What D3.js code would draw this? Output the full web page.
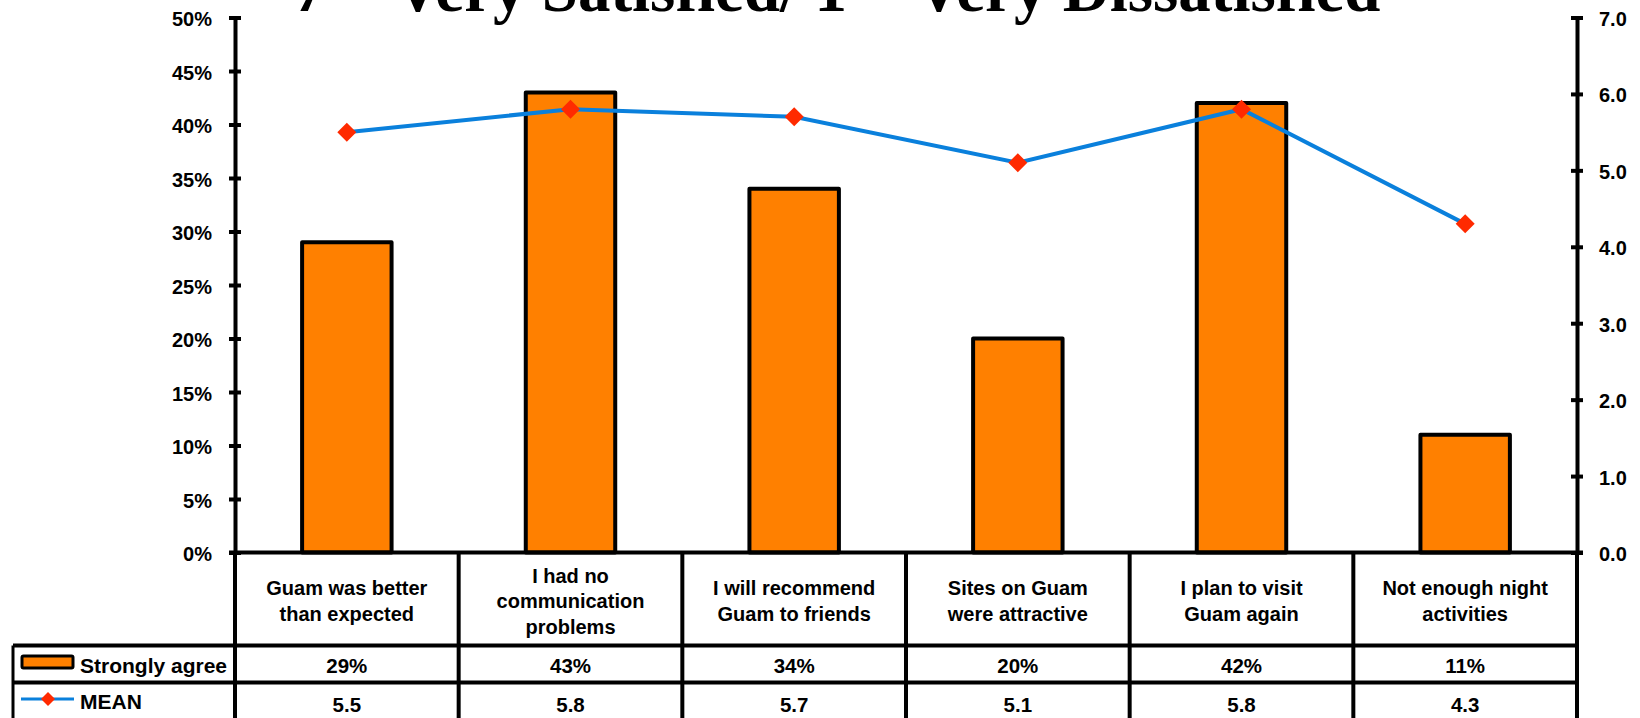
<!DOCTYPE html>
<html>
<head>
<meta charset="utf-8">
<script src="https://cdn.jsdelivr.net/npm/d3@7"></script>
<style>
  html, body { margin: 0; padding: 0; background: #fff; }
  svg { display: block; }
  text { font-family: "Liberation Sans", Arial, sans-serif; font-weight: bold; fill: #000; }
</style>
</head>
<body>
<svg id="chart" width="1640" height="718"></svg>
<script>
// Survey statements (table header lines are split with "|")
const categories = [
  "Guam was better|than expected",
  "I had no|communication|problems",
  "I will recommend|Guam to friends",
  "Sites on Guam|were attractive",
  "I plan to visit|Guam again",
  "Not enough night|activities"
];
// Share answering "Strongly agree"
const stronglyAgree = [0.29, 0.43, 0.34, 0.20, 0.42, 0.11];
// Mean score on the 1-7 scale
const meanScore = [5.5, 5.8, 5.7, 5.1, 5.8, 4.3];
// Axis ticks
const pctTicks = [0, 0.05, 0.10, 0.15, 0.20, 0.25, 0.30, 0.35, 0.40, 0.45, 0.50];
const meanTicks = [0, 1, 2, 3, 4, 5, 6, 7];
const seriesNames = ["Strongly agree", "MEAN"];
const titleText = "7 = Very Satisfied/ 1 = Very Dissatisfied";

const BAR = "#FF8000", LINE = "#0A80DC", MARK = "#FF2A00";

const svg = d3.select("#chart");

const plotLeft = 235, plotRight = 1577, plotTop = 17.5, plotBottom = 552.5;
const rowA = 645.5, rowB = 682.5, rowEnd = 718, legendLeft = 13;

const x = d3.scaleBand().domain(categories).range([plotLeft, plotRight]).padding(0);
const yL = d3.scaleLinear().domain([0, 0.5]).range([plotBottom, plotTop]);
const yR = d3.scaleLinear().domain([0, 7]).range([plotBottom, plotTop]);

// Title: only its lower edge falls inside the drawing
svg.append("text")
  .attr("x", 837).attr("y", 11)
  .attr("text-anchor", "middle")
  .style("font-family", "'Liberation Serif', 'Times New Roman', serif")
  .style("font-size", "65px")
  .text(titleText);

// Bars
svg.append("g").selectAll("rect")
  .data(categories)
  .join("rect")
  .attr("x", d => x(d) + x.bandwidth() * 0.3)
  .attr("width", x.bandwidth() * 0.4)
  .attr("y", (d, i) => yL(stronglyAgree[i]))
  .attr("height", (d, i) => plotBottom - yL(stronglyAgree[i]))
  .attr("fill", BAR)
  .attr("stroke", "#000")
  .attr("stroke-width", 4)
  .attr("stroke-linejoin", "round");

// Mean line with diamond markers
const cx = d => x(d) + x.bandwidth() / 2;
svg.append("path")
  .datum(categories)
  .attr("fill", "none")
  .attr("stroke", LINE)
  .attr("stroke-width", 4)
  .attr("d", d3.line().x(d => cx(d)).y((d, i) => yR(meanScore[i])));

const diamond = (s) => `M0,${-s}L${s},0L0,${s}L${-s},0Z`;
svg.append("g").selectAll("path")
  .data(categories)
  .join("path")
  .attr("transform", (d, i) => `translate(${cx(d)},${yR(meanScore[i])})`)
  .attr("d", diamond(9.5))
  .attr("fill", MARK);

// Left axis (percent)
const axL = svg.append("g")
  .attr("transform", `translate(${plotLeft},0)`)
  .call(d3.axisLeft(yL).tickValues(pctTicks).tickFormat(d3.format(".0%"))
        .tickSizeInner(6).tickSizeOuter(0).tickPadding(17));
axL.select(".domain").attr("stroke", "#000").attr("stroke-width", 4);
axL.selectAll(".tick line").attr("x1", 6).attr("stroke", "#000").attr("stroke-width", 4);
axL.selectAll(".tick text").style("font-size", "20px")
  .style("font-family", "'Liberation Sans', Arial, sans-serif").style("font-weight", "bold")
  .attr("dy", "0.4em");

// Right axis (mean score)
const axR = svg.append("g")
  .attr("transform", `translate(${plotRight},0)`)
  .call(d3.axisRight(yR).tickValues(meanTicks).tickFormat(d3.format(".1f"))
        .tickSizeInner(6).tickSizeOuter(0).tickPadding(16));
axR.select(".domain").attr("stroke", "#000").attr("stroke-width", 4);
axR.selectAll(".tick line").attr("x1", -6).attr("stroke", "#000").attr("stroke-width", 4);
axR.selectAll(".tick text").style("font-size", "20px")
  .style("font-family", "'Liberation Sans', Arial, sans-serif").style("font-weight", "bold")
  .attr("dy", "0.4em");

// Data table
const grid = svg.append("g").attr("stroke", "#000").attr("stroke-width", 4);
grid.append("line").attr("x1", plotLeft - 6).attr("x2", plotRight + 6).attr("y1", plotBottom).attr("y2", plotBottom);
const bounds = categories.map(d => x(d)).concat([plotRight]);
grid.selectAll("line.col").data(bounds).join("line").attr("class", "col")
  .attr("x1", d => d).attr("x2", d => d).attr("y1", plotBottom).attr("y2", rowEnd);
grid.selectAll("line.row").data([rowA, rowB]).join("line").attr("class", "row")
  .attr("x1", legendLeft).attr("x2", plotRight).attr("y1", d => d).attr("y2", d => d);
grid.append("line").attr("x1", legendLeft).attr("x2", legendLeft).attr("y1", rowA).attr("y2", rowEnd)
  .attr("stroke-width", 3);

// Header cells
const lineGap = 25.5, headMid = 601;
const head = svg.append("g").style("font-size", "20px").attr("text-anchor", "middle");
categories.forEach(c => {
  const lines = c.split("|");
  const t = head.append("text").attr("x", cx(c));
  lines.forEach((ln, j) => {
    t.append("tspan").attr("x", cx(c))
      .attr("y", headMid + (j - (lines.length - 1) / 2) * lineGap)
      .attr("dy", "0.36em").text(ln);
  });
});

// Value rows
const rowMid1 = (rowA + rowB) / 2 + 2, rowMid2 = (rowB + rowEnd) / 2 + 4;
const pctFmt = d3.format(".0%"), meanFmt = d3.format(".1f");
svg.append("g").selectAll("text").data(categories).join("text")
  .attr("x", d => cx(d)).attr("y", rowMid1).attr("dy", "0.36em")
  .attr("text-anchor", "middle").style("font-size", "20.5px")
  .text((d, i) => pctFmt(stronglyAgree[i]));
svg.append("g").selectAll("text").data(categories).join("text")
  .attr("x", d => cx(d)).attr("y", rowMid2).attr("dy", "0.36em")
  .attr("text-anchor", "middle").style("font-size", "20.5px")
  .text((d, i) => meanFmt(meanScore[i]));

// Legend keys in the first column
const leg = svg.append("g");
leg.append("rect").attr("x", 22).attr("y", 656).attr("width", 51).attr("height", 12)
  .attr("fill", BAR).attr("stroke", "#000").attr("stroke-width", 3).attr("rx", 1.5);
leg.append("text").attr("x", 80).attr("y", rowMid1 - 1).attr("dy", "0.36em")
  .style("font-size", "21px").text(seriesNames[0]);
leg.append("line").attr("x1", 21).attr("x2", 74).attr("y1", 699).attr("y2", 699)
  .attr("stroke", LINE).attr("stroke-width", 3);
leg.append("path").attr("transform", "translate(48,699)").attr("d", diamond(7)).attr("fill", MARK);
leg.append("text").attr("x", 80).attr("y", 701).attr("dy", "0.36em")
  .style("font-size", "21px").text(seriesNames[1]);
</script>
</body>
</html>
